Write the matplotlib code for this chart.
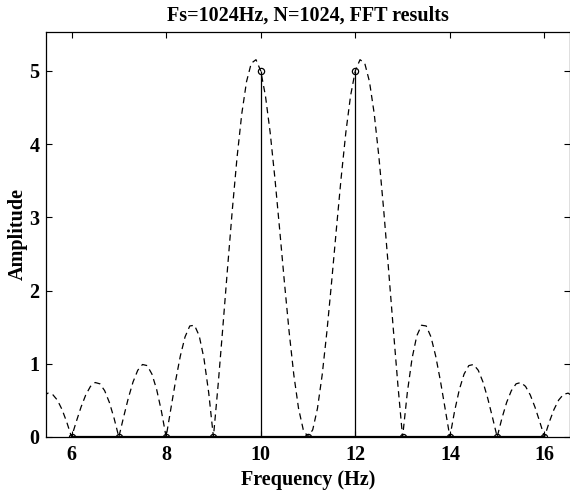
import numpy as np
import matplotlib
matplotlib.use("Agg")
import matplotlib.pyplot as plt

# ---- data ----
# stem (FFT bins)
bin_freqs = [6, 7, 8, 9, 10, 11, 12, 13, 14, 15, 16]
bin_amps = [0, 0, 0, 0, 5, 0, 5, 0, 0, 0, 0]

# dense (zero-padded) spectrum, sampled every 0.1 Hz from 5.4 Hz to 16.6 Hz
curve_start = 5.4
curve_step = 0.1
curve_amps = [
    0.558, 0.599, 0.581, 0.504, 0.374, 0.201, 0.000, 0.209, 0.407, 0.574,
    0.691, 0.744, 0.726, 0.633, 0.472, 0.255, 0.000, 0.270, 0.529, 0.751,
    0.911, 0.990, 0.975, 0.859, 0.648, 0.354, 0.000, 0.385, 0.766, 1.105,
    1.367, 1.516, 1.526, 1.381, 1.072, 0.606, 0.000, 0.716, 1.504, 2.316,
    3.105, 3.820, 4.415, 4.852, 5.103, 5.152, 5.000, 4.659, 4.158, 3.534,
    2.838, 2.122, 1.442, 0.849, 0.390, 0.099, 0.000,
    0.099, 0.390, 0.849, 1.442, 2.122, 2.838, 3.534, 4.158, 4.659, 5.000,
    5.152, 5.103, 4.852, 4.415, 3.820, 3.105, 2.316, 1.504, 0.716, 0.000,
    0.606, 1.072, 1.381, 1.526, 1.516, 1.367, 1.105, 0.766, 0.385, 0.000,
    0.354, 0.648, 0.859, 0.975, 0.990, 0.911, 0.751, 0.529, 0.270, 0.000,
    0.255, 0.472, 0.633, 0.726, 0.744, 0.691, 0.574, 0.407, 0.209, 0.000,
    0.201, 0.374, 0.504, 0.581, 0.599, 0.558,
]
curve_freqs = np.round(curve_start + curve_step * np.arange(len(curve_amps)), 2)

x_ticks = [6, 8, 10, 12, 14, 16]
y_ticks = [0, 1, 2, 3, 4, 5]

title_text = "Fs=1024Hz, N=1024, FFT results"
xlabel_text = "Frequency (Hz)"
ylabel_text = "Amplitude"

# ---- figure ----
plt.rcParams['font.family'] = ['Liberation Serif', 'DejaVu Serif']
plt.rcParams['font.weight'] = 'bold'
FS = 14.5

fig = plt.figure(figsize=(5.70, 4.93), dpi=100)
W, H = 570, 493
left, right, top, bottom = 46, 570, 32, 437
ax = fig.add_axes([left / W, 1 - bottom / H, (right - left) / W, (bottom - top) / H])

ax.plot(curve_freqs, curve_amps, linestyle=(0, (5, 3.5)), color='black', lw=0.9)

markerline, stemlines, baseline = ax.stem(bin_freqs, bin_amps, basefmt='k-')
plt.setp(stemlines, color='black', linewidth=0.9)
plt.setp(markerline, marker='o', markersize=4.5, markerfacecolor='none',
         markeredgecolor='black', markeredgewidth=0.9)
plt.setp(baseline, color='black', linewidth=1.6)

ax.set_xlim(5.46, 16.54)
ax.set_ylim(0, 5.53)
ax.set_xticks(x_ticks)
ax.set_yticks(y_ticks)
ax.tick_params(direction='in', top=True, right=True, length=4, width=0.8,
               labelsize=FS)
ax.tick_params(axis='x', pad=6)
ax.tick_params(axis='y', pad=4.5)
for lab in ax.get_xticklabels() + ax.get_yticklabels():
    lab.set_fontweight('bold')
for sp in ax.spines.values():
    sp.set_linewidth(0.9)

ax.set_title(title_text, fontsize=FS, fontweight='bold', pad=8)
ax.set_xlabel(xlabel_text, fontsize=FS, fontweight='bold', labelpad=3)
ax.set_ylabel(ylabel_text, fontsize=FS, fontweight='bold', labelpad=1)

fig.savefig("out.png", dpi=100)
